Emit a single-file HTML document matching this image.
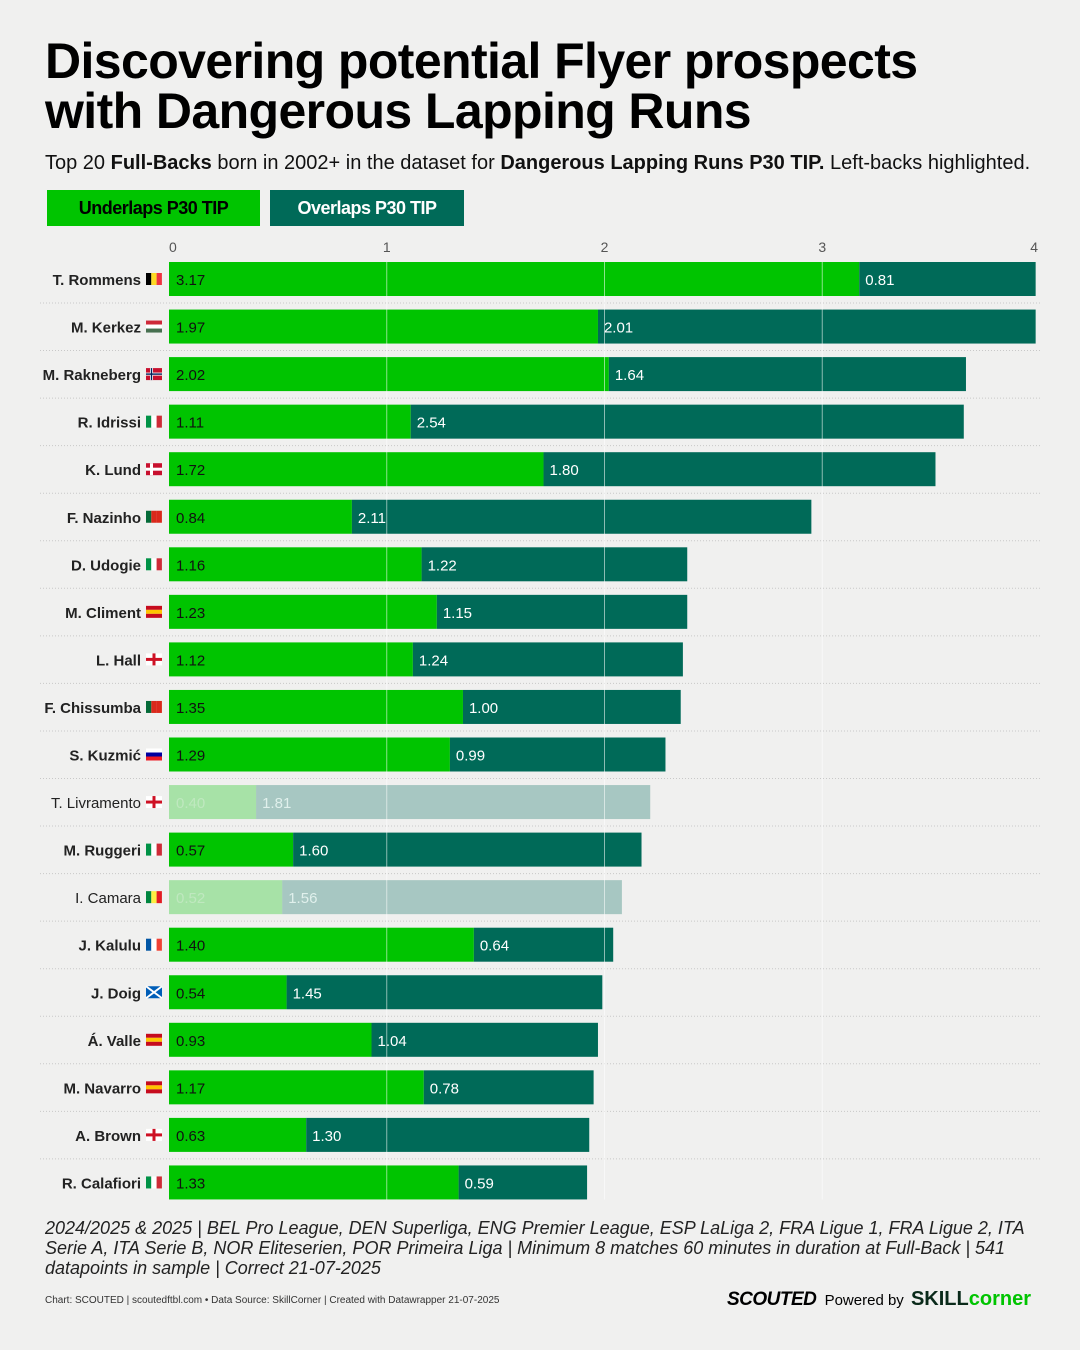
<!DOCTYPE html>
<html><head><meta charset="utf-8">
<style>
body{margin:0;background:#f0f0ef;font-family:"Liberation Sans",sans-serif;}
#root{position:relative;width:1080px;height:1350px;overflow:hidden;}
h1{position:absolute;left:45px;top:36px;margin:0;font-size:50px;line-height:50px;font-weight:900;letter-spacing:-0.6px;color:#000;}
.sub{position:absolute;left:45px;top:152px;font-size:20px;color:#111;}
.leg{position:absolute;top:190px;height:36px;line-height:36px;font-size:18px;font-weight:bold;text-align:center;letter-spacing:-0.5px}
.note{position:absolute;left:45px;top:1218px;width:990px;font-size:18px;font-style:italic;line-height:20px;color:#222;}
.foot{position:absolute;left:45px;top:1295px;font-size:10px;color:#333;}
</style></head><body>
<div id="root">
<h1>Discovering potential Flyer prospects<br>with Dangerous Lapping Runs</h1>
<div class="sub">Top 20 <b>Full-Backs</b> born in 2002+ in the dataset for <b>Dangerous Lapping Runs P30 TIP.</b> Left-backs highlighted.</div>
<div class="leg" style="left:47px;width:213px;background:#00c400;color:#000">Underlaps P30 TIP</div>
<div class="leg" style="left:270px;width:194px;background:#006a58;color:#fff">Overlaps P30 TIP</div>
<svg id="chart" width="1080" height="1350" style="position:absolute;left:0;top:0"></svg>
<div class="note">2024/2025 &amp; 2025 | BEL Pro League, DEN Superliga, ENG Premier League, ESP LaLiga 2, FRA Ligue 1, FRA Ligue 2, ITA Serie A, ITA Serie B, NOR Eliteserien, POR Primeira Liga | Minimum 8 matches 60 minutes in duration at Full-Back | 541 datapoints in sample | Correct 21-07-2025</div>
<div class="foot">Chart: SCOUTED | scoutedftbl.com • Data Source: SkillCorner | Created with Datawrapper 21-07-2025</div>
<div style="position:absolute;left:727px;top:1288px;font-size:15px;white-space:nowrap">
<span style="font-weight:900;font-style:italic;font-size:19px;letter-spacing:-0.5px">SCOUTED</span>
<span style="margin-left:4px">Powered by</span>
<span style="font-weight:900;font-size:20px;color:#0a2a1a;margin-left:3px">SKILL<span style="color:#00c400;font-weight:bold">corner</span></span>
</div>
</div>
<script>
const names=["T. Rommens","M. Kerkez","M. Rakneberg","R. Idrissi","K. Lund","F. Nazinho","D. Udogie","M. Climent","L. Hall","F. Chissumba","S. Kuzmić","T. Livramento","M. Ruggeri","I. Camara","J. Kalulu","J. Doig","Á. Valle","M. Navarro","A. Brown","R. Calafiori"];
const underlaps=[3.17,1.97,2.02,1.11,1.72,0.84,1.16,1.23,1.12,1.35,1.29,0.40,0.57,0.52,1.40,0.54,0.93,1.17,0.63,1.33];
const overlaps=[0.81,2.01,1.64,2.54,1.80,2.11,1.22,1.15,1.24,1.00,0.99,1.81,1.60,1.56,0.64,1.45,1.04,0.78,1.30,0.59];
const leftBack=[1,1,1,1,1,1,1,1,1,1,1,0,1,0,1,1,1,1,1,1];
const flags=["be","hu","no","it","dk","pt","it","es","en","pt","si","en","it","sn","fr","sc","es","es","en","it"];
const ticks=[0,1,2,3,4];
const NS="http://www.w3.org/2000/svg";
const svg=document.getElementById('chart');
const x0=169,x1=1040,xmax=4;
const xs=v=>x0+(x1-x0)*v/xmax;
const rowY=i=>262+i*47.55;
const bh=34;
function mk(t,a){const e=document.createElementNS(NS,t);for(const k in a)e.setAttribute(k,a[k]);svg.appendChild(e);return e;}
const flagCols={be:["#000","#fdda24","#ef3340"],it:["#009246","#fff","#ce2b37"],pt:["#046a38","#da291c","#da291c"],fr:["#0055a4","#fff","#ef4135"],sn:["#00853f","#fdef42","#e31b23"]};
const hFlags={hu:["#ce2939","#fff","#477050"],si:["#fff","#0000a0","#ed1c24"],es:["#c60b1e","#ffc400","#c60b1e"]};
ticks.forEach(t=>{
  const tl=mk('text',{x:t==4?1038:xs(t),y:252,'font-size':14,fill:'#555','text-anchor':t==4?'end':(t==0?'start':'middle'),'font-family':'Liberation Sans'});
  tl.textContent=t;
  
  
});
names.forEach((n,i)=>{
  const y=rowY(i);
  const op=leftBack[i]?1:0.3;
  const a=mk('rect',{x:xs(0),y:y,width:xs(underlaps[i])-xs(0),height:bh,fill:'#00c400','fill-opacity':op});
  
  
  const b=mk('rect',{x:xs(underlaps[i]),y:y,width:xs(underlaps[i]+overlaps[i])-xs(underlaps[i]),height:bh,fill:'#006a58','fill-opacity':op});
  
  
  const t1=mk('text',{x:xs(0)+7,y:y+23,'font-size':15,fill:leftBack[i]?'#111':'#bfe8bf'});
  t1.textContent=underlaps[i].toFixed(2);
  
  
  const t2=mk('text',{x:xs(underlaps[i])+6,y:y+23,'font-size':15,fill:leftBack[i]?'#fff':'#e0f0ec'});
  t2.textContent=overlaps[i].toFixed(2);
  
  
  const nl=mk('text',{x:141,y:y+23,'font-size':15,'font-weight':leftBack[i]?'bold':'normal',fill:'#222','text-anchor':'end'});
  nl.textContent=n;
  
  
  const f=flags[i],fx=146,fy=y+11;
  if(flagCols[f]){flagCols[f].forEach((c,k)=>mk('rect',{x:fx+k*5.3,y:fy,width:5.3,height:12,fill:c}));}
  else if(hFlags[f]){hFlags[f].forEach((c,k)=>mk('rect',{x:fx,y:fy+k*4,width:16,height:4,fill:c}));}
  else if(f=="en"){mk('rect',{x:fx,y:fy,width:16,height:12,fill:'#fff'});mk('rect',{x:fx+6.5,y:fy,width:3,height:12,fill:'#ce1124'});mk('rect',{x:fx,y:fy+4.5,width:16,height:3,fill:'#ce1124'});}
  else if(f=="no"||f=="dk"){mk('rect',{x:fx,y:fy,width:16,height:12,fill:'#c8102e'});mk('rect',{x:fx+4,y:fy,width:3,height:12,fill:'#fff'});mk('rect',{x:fx,y:fy+4.5,width:16,height:3,fill:'#fff'});if(f=="no"){mk('rect',{x:fx+4.8,y:fy,width:1.4,height:12,fill:'#00205b'});mk('rect',{x:fx,y:fy+5.3,width:16,height:1.4,fill:'#00205b'});}}
  else if(f=="sc"){mk('rect',{x:fx,y:fy,width:16,height:12,fill:'#005eb8'});mk('line',{x1:fx,y1:fy,x2:fx+16,y2:fy+12,stroke:'#fff','stroke-width':2});mk('line',{x1:fx+16,y1:fy,x2:fx,y2:fy+12,stroke:'#fff','stroke-width':2});}
  if(i<names.length-1){const s=mk('line',{x1:40,x2:1040,y1:y+bh+7,y2:y+bh+7,stroke:'#c8c8c8','stroke-dasharray':'1,2'});
  
  }
});
ticks.forEach(t=>{if(t>0&&t<4){const g=mk('line',{x1:xs(t),x2:xs(t),y1:rowY(0),y2:rowY(19)+bh,stroke:'#ffffff','stroke-opacity':0.55,'stroke-width':1});
  
  }});
</script>
</body></html>
